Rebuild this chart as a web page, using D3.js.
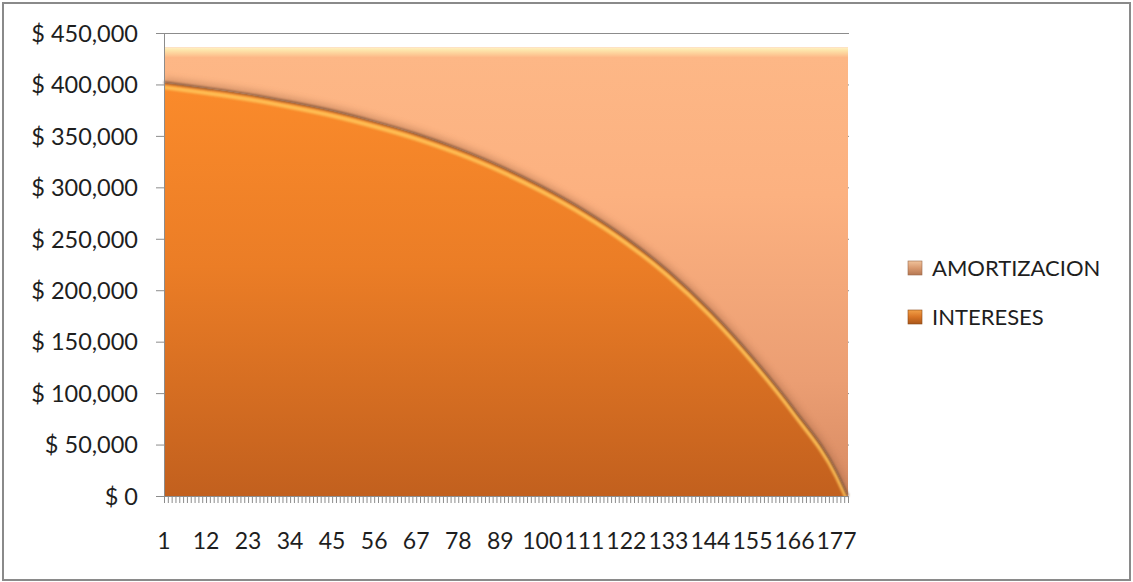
<!DOCTYPE html>
<html>
<head>
<meta charset="utf-8">
<script src="https://cdn.jsdelivr.net/npm/d3@7/dist/d3.min.js"></script>
<style>
  html, body { margin: 0; padding: 0; background: #ffffff; }
  svg { display: block; }
  text { font-family: Lato, "Open Sans", sans-serif; fill: #1e1e1e; }
</style>
</head>
<body>
<svg id="chart" width="1133" height="582"></svg>
<script>
// Loan schedule: periods where the balance split is sampled
const periods = [1, 12, 23, 34, 45, 56, 67, 78, 89, 100, 111, 122, 133, 144, 155, 166, 177, 180];
const intereses = [402000, 396500, 390500, 383000, 374500, 364000, 352000, 337500, 320500,
                   300500, 277500, 250500, 218500, 180000, 135000, 84000, 24000, 0];
const amortizacion = [34000, 39500, 45500, 53000, 61500, 72000, 84000, 98500, 115500,
                      135500, 158500, 185500, 217500, 256000, 301000, 352000, 412000, 436000];
const seriesNames = ["INTERESES", "AMORTIZACION"];
const periodCount = 180;
const xTickLabels = [1, 12, 23, 34, 45, 56, 67, 78, 89, 100, 111, 122, 133, 144, 155, 166, 177];
const yTickValues = [0, 50000, 100000, 150000, 200000, 250000, 300000, 350000, 400000, 450000];

const svg = d3.select("#chart");
const pLeft = 164, pRight = 848, pTop = 33, pBottom = 496;

const x = d3.scaleLinear().domain([1, periodCount]).range([pLeft, pRight]);
const y = d3.scaleLinear().domain([0, 450000]).range([pBottom, pTop]);

const table = periods.map((p, i) => ({ period: p, INTERESES: intereses[i], AMORTIZACION: amortizacion[i] }));
const stacked = d3.stack().keys(seriesNames)(table);
const totalTop = y(d3.max(stacked[1], d => d[1]));

// ---------- defs: gradients, blur, clip ----------
const defs = svg.append("defs");

function vGrad(id, y1, y2, stops, units) {
  const g = defs.append("linearGradient").attr("id", id)
    .attr("gradientUnits", units || "userSpaceOnUse")
    .attr("x1", 0).attr("x2", 0).attr("y1", y1).attr("y2", y2);
  stops.forEach(s => g.append("stop").attr("offset", s[0]).attr("stop-color", s[1]));
}
vGrad("gAmort", pTop, pBottom, [[0, "#fdb887"], [0.35, "#fcb180"], [0.75, "#eb9e73"], [1, "#d78a62"]]);
vGrad("gInt", 80, pBottom, [[0, "#fb8b2b"], [0.45, "#eb7d26"], [1, "#c2601e"]]);
vGrad("gLegA", 0, 1, [[0, "#f0c39c"], [0.5, "#d99a70"], [1, "#b57752"]], "objectBoundingBox");
vGrad("gLegI", 0, 1, [[0, "#f2a048"], [0.5, "#d87425"], [1, "#a9561a"]], "objectBoundingBox");
vGrad("gRim", totalTop, totalTop + 10, [[0, "#fff2c6"], [0.3, "#fde4aa"], [1, "#fdb887"]]);

defs.append("filter").attr("id", "soft").attr("x", "-5%").attr("y", "-5%").attr("width", "110%").attr("height", "110%")
  .append("feGaussianBlur").attr("stdDeviation", 1.1);
defs.append("filter").attr("id", "softer").attr("x", "-5%").attr("y", "-5%").attr("width", "110%").attr("height", "110%")
  .append("feGaussianBlur").attr("stdDeviation", 3);

const area = d3.area()
  .x(d => x(d.data.period))
  .y0(d => y(d[0]))
  .y1(d => y(d[1]))
  .curve(d3.curveMonotoneX);

const topLine = d3.line()
  .x(d => x(d.data.period))
  .y(d => y(d[1]))
  .curve(d3.curveMonotoneX);

defs.append("clipPath").attr("id", "clipInt").append("path").attr("d", area(stacked[0]));
defs.append("clipPath").attr("id", "clipAmort").append("path").attr("d", area(stacked[1]));

// ---------- chart frame ----------
svg.append("rect").attr("x", 3).attr("y", 3).attr("width", 1127).attr("height", 577)
  .attr("fill", "#ffffff").attr("stroke", "#8a8a8a").attr("stroke-width", 2);

// horizontal gridlines
svg.append("g").selectAll("line").data(yTickValues).join("line")
  .attr("x1", pLeft).attr("x2", pRight + 1)
  .attr("y1", d => y(d) + 0.5).attr("y2", d => y(d) + 0.5)
  .attr("stroke", "#8c8c8c").attr("stroke-width", 1);

// ---------- areas ----------
svg.append("path").attr("d", area(stacked[0])).attr("fill", "url(#gInt)");
svg.append("path").attr("d", area(stacked[1])).attr("fill", "url(#gAmort)");

// bevel on the amortization block: light top rim, shaded right rim
const amRim = svg.append("g").attr("clip-path", "url(#clipAmort)");
amRim.append("rect").attr("x", pLeft).attr("y", totalTop).attr("width", pRight - pLeft).attr("height", 10)
  .attr("fill", "url(#gRim)");
amRim.append("line").attr("x1", pRight - 1).attr("x2", pRight - 1).attr("y1", pTop).attr("y2", pBottom)
  .attr("stroke", "#8a5a40").attr("stroke-width", 3).attr("filter", "url(#soft)");
// soft shadow cast above the boundary curve
amRim.append("path").attr("d", topLine(stacked[0])).attr("fill", "none")
  .attr("stroke", "#a86a48").attr("stroke-width", 10).attr("opacity", 0.4).attr("filter", "url(#softer)");

// bevel on the interest block: yellow highlight under the curve, dark base
const inRim = svg.append("g").attr("clip-path", "url(#clipInt)");
inRim.append("path").attr("d", topLine(stacked[0])).attr("fill", "none")
  .attr("transform", "translate(0,5)")
  .attr("stroke", "#ffc45a").attr("stroke-width", 4).attr("opacity", 0.9).attr("filter", "url(#soft)");
inRim.append("line").attr("x1", pLeft).attr("x2", pRight).attr("y1", pBottom - 4).attr("y2", pBottom - 4)
  .attr("stroke", "#9c5220").attr("stroke-width", 9).attr("opacity", 0.6).attr("filter", "url(#softer)");
inRim.append("line").attr("x1", pLeft + 2).attr("x2", pLeft + 2).attr("y1", pTop).attr("y2", pBottom)
  .attr("stroke", "#ffb060").attr("stroke-width", 3).attr("opacity", 0.5).attr("filter", "url(#soft)");

svg.append("path").attr("d", topLine(stacked[0])).attr("fill", "none")
  .attr("stroke", "#86583c").attr("stroke-width", 2.2).attr("filter", "url(#soft)");

// ---------- axes ----------
const yAxis = svg.append("g").attr("transform", `translate(${pLeft},0)`)
  .call(d3.axisLeft(y).tickValues(yTickValues).tickSize(8).tickPadding(18)
    .tickFormat(d => "$ " + d3.format(",")(d)));
yAxis.select(".domain").attr("stroke", "#8c8c8c");
yAxis.selectAll(".tick line").attr("stroke", "#8c8c8c");
yAxis.selectAll(".tick text").attr("font-size", 23.5).attr("fill", "#1e1e1e")
  .style("font-family", "Lato, sans-serif").attr("dy", "0.35em");

const xAxis = svg.append("g").attr("transform", `translate(0,${pBottom})`)
  .call(d3.axisBottom(x).tickValues(d3.range(1, periodCount + 1)).tickSize(7).tickFormat(""));
xAxis.select(".domain").attr("stroke", "#8c8c8c");
xAxis.selectAll(".tick line").attr("stroke", "#8c8c8c");

svg.append("g").selectAll("text").data(xTickLabels).join("text")
  .attr("x", d => x(d)).attr("y", 549)
  .attr("text-anchor", "middle").attr("font-size", 23)
  .text(d => d);

// ---------- legend ----------
const legendItems = [
  { name: "AMORTIZACION", fill: "url(#gLegA)", edge: "#9a6a4c", y: 268 },
  { name: "INTERESES", fill: "url(#gLegI)", edge: "#8a4a18", y: 317 }
];
const lg = svg.append("g");
legendItems.forEach(it => {
  lg.append("rect").attr("x", 908).attr("y", it.y - 7).attr("width", 14).attr("height", 14)
    .attr("fill", it.fill).attr("stroke", it.edge).attr("stroke-width", 0.6);
  lg.append("text").attr("x", 932).attr("y", it.y + 8).attr("font-size", 22).text(it.name);
});
</script>
</body>
</html>
